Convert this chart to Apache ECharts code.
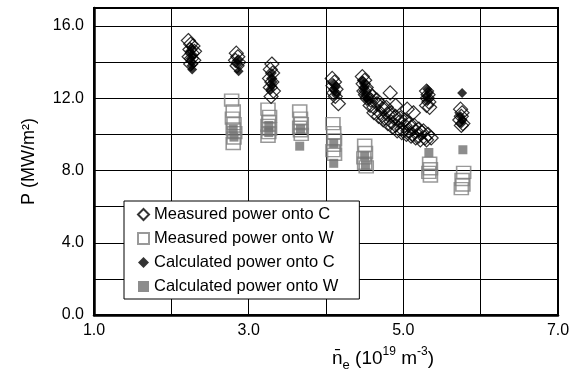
<!DOCTYPE html>
<html>
<head>
<meta charset="utf-8">
<script src="https://cdn.jsdelivr.net/npm/echarts@6/dist/echarts.min.js"></script>
<style>
  html, body { margin: 0; padding: 0; background: #fff; }
  #chart { width: 587px; height: 378px; }
</style>
</head>
<body>
<div id="chart"></div>
<script>
// x = line-averaged density (10^19 m^-3), y = power (MW/m2)
const measuredC = [
  [2.22, 15.2], [2.25, 15.0], [2.28, 14.9], [2.24, 14.7], [2.27, 14.5], [2.30, 14.6],
  [2.23, 14.3], [2.26, 14.2], [2.29, 14.1], [2.25, 13.9],
  [2.84, 14.5], [2.86, 14.3], [2.83, 14.1], [2.87, 14.0], [2.85, 13.8],
  [3.30, 13.9], [3.28, 13.6], [3.31, 13.4], [3.27, 13.1], [3.30, 12.9], [3.28, 12.6],
  [3.32, 12.4], [3.29, 12.1],
  [4.08, 13.1], [4.11, 12.9], [4.09, 12.7], [4.13, 12.5], [4.10, 12.3], [4.12, 12.1], [4.16, 11.7],
  [4.47, 13.2], [4.50, 13.0], [4.48, 12.8], [4.52, 12.6], [4.49, 12.4], [4.51, 12.2], [4.53, 12.0],
  [4.56, 12.3], [4.58, 11.9], [4.57, 11.6], [4.62, 11.5], [4.66, 11.7], [4.70, 11.2],
  [4.74, 11.4], [4.76, 10.9], [4.80, 11.1], [4.84, 10.7], [4.88, 10.9], [4.90, 10.5],
  [4.95, 10.7], [4.98, 10.3], [5.02, 10.5], [5.06, 10.2], [5.10, 10.4], [5.12, 10.0],
  [5.16, 10.2], [5.20, 9.9], [5.24, 10.1], [5.28, 9.8], [5.32, 10.0], [5.36, 9.8],
  [4.60, 12.1], [4.66, 11.9], [4.72, 11.6], [4.78, 11.5], [4.84, 11.2], [4.90, 11.0],
  [4.96, 10.9], [5.02, 10.8], [5.08, 10.6], [5.14, 10.5], [5.20, 10.3], [5.26, 10.2],
  [4.62, 11.2], [4.68, 11.0], [4.74, 10.8], [4.80, 10.6], [4.86, 10.4], [4.92, 10.2],
  [4.98, 10.1], [5.04, 10.0], [5.10, 9.9], [5.16, 9.8], [5.22, 9.7], [5.30, 9.7],
  [4.83, 12.3], [4.90, 11.6], [5.05, 11.4], [5.13, 11.2],
  [5.30, 12.4], [5.32, 12.2], [5.31, 12.0], [5.33, 11.8], [5.30, 11.6], [5.34, 11.5],
  [5.74, 11.4], [5.76, 11.2], [5.75, 11.0], [5.73, 10.8], [5.77, 10.6], [5.75, 10.5]
];
const measuredW = [
  [2.78, 11.9], [2.80, 11.3], [2.79, 10.9], [2.81, 10.6], [2.80, 10.3], [2.82, 10.1],
  [2.81, 9.8], [2.80, 9.5],
  [3.25, 11.4], [3.27, 11.0], [3.26, 10.7], [3.25, 10.5], [3.27, 10.3], [3.26, 10.1], [3.25, 9.9],
  [3.66, 11.3], [3.67, 10.9], [3.68, 10.6], [3.66, 10.4], [3.67, 10.2], [3.68, 10.0],
  [4.09, 10.6], [4.10, 10.1], [4.11, 9.7], [4.10, 9.4], [4.09, 9.1], [4.11, 8.9],
  [4.50, 9.4], [4.51, 9.0], [4.49, 8.7], [4.50, 8.4], [4.52, 8.2],
  [5.34, 8.4], [5.35, 8.1], [5.33, 7.9], [5.35, 7.7],
  [5.78, 7.9], [5.76, 7.5], [5.77, 7.2], [5.75, 7.0]
];
const calculatedC = [
  [2.26, 14.8], [2.24, 14.6], [2.28, 14.4], [2.25, 14.2], [2.27, 14.0], [2.26, 13.8], [2.27, 13.6],
  [2.85, 14.1], [2.86, 13.9], [2.87, 13.5],
  [3.30, 13.4], [3.29, 13.1], [3.31, 12.9], [3.30, 12.7], [3.28, 12.5],
  [4.10, 12.8], [4.12, 12.6], [4.11, 12.4], [4.13, 12.2],
  [4.47, 13.0], [4.49, 12.8], [4.50, 12.6], [4.48, 12.4], [4.51, 12.2], [4.53, 12.0], [4.55, 11.9],
  [5.31, 12.5], [5.33, 12.3], [5.30, 12.1], [5.32, 11.9],
  [5.76, 12.3], [5.74, 11.0], [5.76, 10.8], [5.75, 10.6]
];
const calculatedW = [
  [2.80, 10.3], [2.81, 9.85],
  [3.26, 10.5], [3.26, 10.1],
  [3.67, 10.3], [3.66, 9.35],
  [4.10, 9.5], [4.10, 8.4],
  [4.50, 8.8], [4.51, 8.3],
  [5.33, 9.0],
  [5.77, 9.15]
];
const seriesNames = [
  'Measured power onto C',
  'Measured power onto W',
  'Calculated power onto C',
  'Calculated power onto W'
];
const xTickLabels = ['1.0', '3.0', '5.0', '7.0'];
const yTickLabels = ['0.0', '4.0', '8.0', '12.0', '16.0'];

const FONT = '"Liberation Sans", Arial, Helvetica, sans-serif';
const chart = echarts.init(document.getElementById('chart'), null, { renderer: 'canvas' });

const option = {
  animation: false,
  backgroundColor: '#fff',
  textStyle: { fontFamily: FONT, color: '#000' },
  grid: {
    left: 94, right: 29, top: 8, bottom: 63,
    show: true, borderColor: '#000', borderWidth: 2, backgroundColor: 'transparent'
  },
  legend: {
    data: seriesNames,
    orient: 'vertical',
    left: 124, top: 201,
    padding: [5, 21, 4, 13],
    itemGap: 7,
    itemWidth: 11, itemHeight: 11,
    borderColor: '#000', borderWidth: 1, borderRadius: 0,
    backgroundColor: '#fff',
    textStyle: { fontFamily: FONT, fontSize: 16.5, color: '#000' }
  },
  xAxis: {
    type: 'value', min: 1, max: 7, interval: 1,
    axisLine: { show: true, lineStyle: { color: '#000', width: 2.5 } },
    axisTick: { show: false },
    splitLine: { show: true, lineStyle: { color: '#000', width: 1 } },
    axisLabel: {
      fontSize: 16, color: '#000', margin: 8, fontFamily: FONT,
      formatter: v => xTickLabels.find(t => parseFloat(t) === v) || ''
    }
  },
  yAxis: {
    type: 'value', min: 0, max: 17, interval: 2,
    axisLine: { show: true, lineStyle: { color: '#000', width: 2.5 } },
    axisTick: { show: false },
    splitLine: { show: true, lineStyle: { color: '#000', width: 1 } },
    axisLabel: {
      fontSize: 16, color: '#000', margin: 10, fontFamily: FONT,
      formatter: v => yTickLabels.find(t => parseFloat(t) === v) || ''
    },
    name: 'P (MW/m\u00B2)',
    nameLocation: 'middle',
    nameGap: 56,
    nameTextStyle: { fontSize: 18, color: '#000', fontFamily: FONT }
  },
  graphic: [{
    type: 'text',
    left: 332, top: 346,
    style: {
      text: '{t|n\u0304}{s|e}{t| (10}{p|19}{t| m}{p|-3}{t|)}',
      rich: {
        t: { fontSize: 19, lineHeight: 26, verticalAlign: 'middle', fontFamily: FONT, fill: '#000' },
        s: { fontSize: 13, lineHeight: 26, verticalAlign: 'bottom', fontFamily: FONT, fill: '#000' },
        p: { fontSize: 12, lineHeight: 26, verticalAlign: 'top', fontFamily: FONT, fill: '#000' }
      }
    }
  }],
  series: [
    {
      name: seriesNames[1], type: 'scatter', data: measuredW,
      symbol: 'rect', symbolSize: [14, 12],
      itemStyle: { color: 'rgba(255,255,255,0)', borderColor: '#808080', borderWidth: 1.5 }
    },
    {
      name: seriesNames[3], type: 'scatter', data: calculatedW,
      symbol: 'rect', symbolSize: 9,
      itemStyle: { color: '#707070' }
    },
    {
      name: seriesNames[0], type: 'scatter', data: measuredC,
      symbol: 'diamond', symbolSize: 14,
      itemStyle: { color: 'rgba(255,255,255,0)', borderColor: '#000', borderWidth: 1.2 }
    },
    {
      name: seriesNames[2], type: 'scatter', data: calculatedC,
      symbol: 'diamond', symbolSize: 10,
      itemStyle: { color: '#000' }
    }
  ]
};
chart.setOption(option);
</script>
</body>
</html>
